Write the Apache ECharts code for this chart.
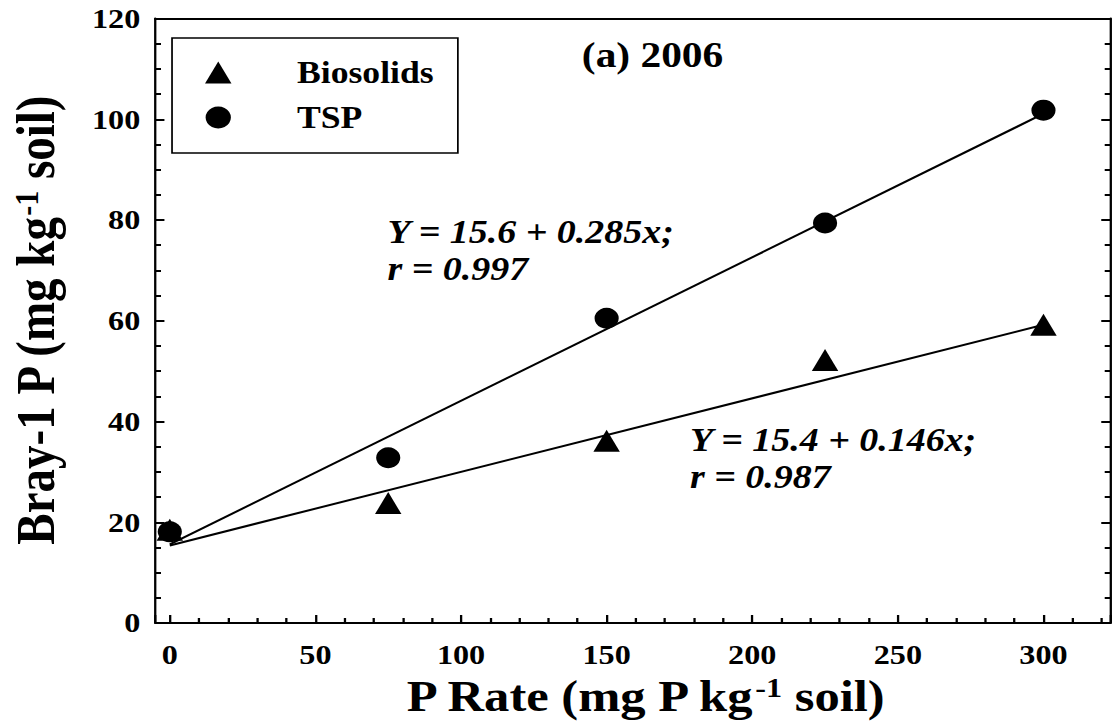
<!DOCTYPE html>
<html>
<head>
<meta charset="UTF-8">
<title>Bray-1 P vs P rate</title>
<script type="text/javascript" src="https://cdn.jsdelivr.net/npm/echarts@6/dist/echarts.min.js"></script>
<style>
  html, body { margin: 0; padding: 0; background: #fff; overflow: hidden; }
  /* the reference figure is stretched sideways, so the chart is drawn narrower and scaled */
  #main { width: 967px; height: 726px; transform: scaleX(1.1499); transform-origin: 0 0; }
</style>
</head>
<body>
	<div id="main"></div>
<script type="text/javascript">
var rates = [0, 75, 150, 225, 300];
var biosolids = [18.5, 23.8, 36.2, 52.2, 59.2];
var tsp = [18.1, 32.8, 60.5, 79.4, 101.8];
// fitted lines, end points
var biosolidsFit = [[0, 15.4], [300, 59.2]];
var tspFit = [[0, 15.6], [300, 101.1]];
var seriesNames = ['Biosolids', 'TSP'];

var FONT = 'Liberation Serif';

var myChart = echarts.init(document.getElementById('main'), null, { renderer: 'svg' });

function pairs(xs, ys) {
  return xs.map(function (x, i) { return [x, ys[i]]; });
}

var tickLabel = { fontFamily: FONT, fontWeight: 'bold', fontSize: 28, color: '#000' };

option = {
  backgroundColor: '#fff',
  animation: false,
  grid: { left: 131.7, right: 1.3, top: 18.5, bottom: 103 },
  legend: {
    data: seriesNames,
    orient: 'vertical',
    left: 149.6,
    top: 38,
    padding: [19, 21, 20, 28.7],
    itemWidth: 23,
    itemHeight: 22,
    itemGap: 14,
    borderColor: '#000',
    borderWidth: 1.5,
    textStyle: { fontFamily: FONT, fontWeight: 'bold', fontSize: 31, color: '#000', padding: [0, 0, 0, 52] }
  },
  xAxis: [
    {
      type: 'value',
      min: -5,
      max: 323,
      minInterval: 50,
      maxInterval: 50,
      splitNumber: 6,
      name: '{a|P Rate (mg P kg}{s|-1}{a| soil)}',
      nameLocation: 'middle',
      nameGap: 50,
      nameTextStyle: {
        padding: [0, 0, 0, 20],
        rich: {
          a: { fontFamily: FONT, fontWeight: 'bold', fontSize: 44, color: '#000' },
          s: { fontFamily: FONT, fontWeight: 'bold', fontSize: 28, color: '#000', verticalAlign: 'top' }
        }
      },
      axisLine: { onZero: false, lineStyle: { color: '#000', width: 2 } },
      axisTick: { inside: true, length: 8, lineStyle: { color: '#000', width: 2 } },
      minorTick: { show: true, splitNumber: 5, length: 5, lineStyle: { color: '#000', width: 2 } },
      axisLabel: Object.assign({ margin: 18, showMinLabel: false, showMaxLabel: false }, tickLabel),
      splitLine: { show: false }
    },
    {
      type: 'value',
      position: 'top',
      min: -5,
      max: 323,
      axisLine: { show: true, onZero: false, lineStyle: { color: '#000', width: 2 } },
      axisTick: { show: false },
      axisLabel: { show: false },
      splitLine: { show: false }
    }
  ],
  yAxis: [
    {
      type: 'value',
      min: 0,
      max: 120,
      interval: 20,
      name: '{a|Bray-1 P (mg kg}{s|-1}{a| soil)}',
      nameLocation: 'middle',
      nameGap: 80,
      nameTextStyle: {
        rich: {
          a: { fontFamily: FONT, fontWeight: 'bold', fontSize: 47, color: '#000' },
          s: { fontFamily: FONT, fontWeight: 'bold', fontSize: 30, color: '#000', verticalAlign: 'top' }
        }
      },
      axisLine: { show: true, onZero: false, lineStyle: { color: '#000', width: 2 } },
      axisTick: { inside: true, length: 8, lineStyle: { color: '#000', width: 2 } },
      minorTick: { show: true, splitNumber: 4, length: 5, lineStyle: { color: '#000', width: 2 } },
      axisLabel: Object.assign({ margin: 13 }, tickLabel),
      splitLine: { show: false }
    },
    {
      type: 'value',
      position: 'right',
      min: 0,
      max: 120,
      interval: 20,
      axisLine: { show: true, onZero: false, lineStyle: { color: '#000', width: 2 } },
      axisTick: { show: true, inside: true, length: 8, lineStyle: { color: '#000', width: 2 } },
      minorTick: { show: true, splitNumber: 4, length: 5, lineStyle: { color: '#000', width: 2 } },
      axisLabel: { show: false },
      splitLine: { show: false }
    }
  ],
  graphic: [
    {
      type: 'text', left: 506, top: 36,
      style: { text: '(a) 2006', font: 'bold 36px ' + FONT, fill: '#000' }
    },
    {
      type: 'text', left: 337, top: 213,
      style: { text: 'Y = 15.6 + 0.285x;\nr = 0.997', font: 'italic bold 33px ' + FONT, lineHeight: 37, fill: '#000' }
    },
    {
      type: 'text', left: 600, top: 421,
      style: { text: 'Y = 15.4 + 0.146x;\nr = 0.987', font: 'italic bold 33px ' + FONT, lineHeight: 37, fill: '#000' }
    }
  ],
  series: [
    {
      name: 'Biosolids fit',
      type: 'line',
      data: biosolidsFit,
      showSymbol: false,
      silent: true,
      z: 1,
      lineStyle: { color: '#000', width: 2 }
    },
    {
      name: 'TSP fit',
      type: 'line',
      data: tspFit,
      showSymbol: false,
      silent: true,
      z: 1,
      lineStyle: { color: '#000', width: 2 }
    },
    {
      name: 'Biosolids',
      type: 'scatter',
      symbol: 'triangle',
      symbolSize: [23, 22],
      itemStyle: { color: '#000', opacity: 1 },
      z: 3,
      data: pairs(rates, biosolids)
    },
    {
      name: 'TSP',
      type: 'scatter',
      symbol: 'circle',
      symbolSize: 21,
      itemStyle: { color: '#000', opacity: 1 },
      z: 4,
      data: pairs(rates, tsp)
    }
  ]
};

myChart.setOption(option);
</script>
</body>
</html>
